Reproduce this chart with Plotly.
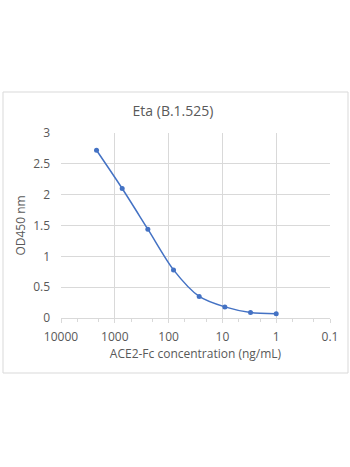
import plotly.graph_objects as go

conc = [2187, 729, 243, 81, 27, 9, 3, 1]
od450 = [2.72, 2.10, 1.44, 0.78, 0.35, 0.18, 0.09, 0.07]
x_ticks = [10000, 1000, 100, 10, 1, 0.1]
x_tick_labels = ["10000", "1000", "100", "10", "1", "0.1"]
y_ticks = [0, 0.5, 1, 1.5, 2, 2.5, 3]
y_tick_labels = ["0", "0.5", "1", "1.5", "2", "2.5", "3"]

W, H = 350, 467
L, R, T, B = 61, 20, 133, 149
pw, ph = W - L - R, H - T - B

color = "#4472C4"
gray = "#595959"
grid = "#d9d9d9"
font = "Open Sans"

fig = go.Figure()
fig.add_trace(go.Scatter(
    x=conc, y=od450, mode="lines+markers",
    line=dict(color=color, width=1.5, shape="spline", smoothing=0.8),
    marker=dict(color=color, size=5),
    showlegend=False,
))

def px_x(p):
    return (p - L) / pw

def px_y(p):
    return (H - B - p) / ph

fig.add_shape(type="rect", xref="paper", yref="paper",
              x0=px_x(3), x1=px_x(348), y0=px_y(373), y1=px_y(92),
              line=dict(color=grid, width=1), layer="below")

fig.update_layout(
    width=W, height=H,
    margin=dict(l=L, r=R, t=T, b=B),
    paper_bgcolor="white", plot_bgcolor="white",
    font=dict(family=font, color=gray),
    title=dict(text="Eta (B.1.525)", x=(173) / W, xanchor="center",
               y=1 - 111 / H, yanchor="middle",
               font=dict(size=14, color=gray, family=font)),
    xaxis=dict(
        type="log", range=[4, -1],
        tickvals=x_ticks, ticktext=x_tick_labels,
        tickfont=dict(size=12, color=gray),
        showgrid=True, gridcolor=grid, gridwidth=1,
        showline=True, linecolor=grid, linewidth=1,
        ticks="outside", ticklen=4, tickcolor=grid,
        ticklabelstandoff=4,
        minor=dict(ticks="outside", ticklen=3, tickcolor=grid, showgrid=False),
        zeroline=False,
        title=dict(text="ACE2-Fc concentration (ng/mL)",
                   font=dict(size=12, color=gray), standoff=4),
    ),
    yaxis=dict(
        range=[0, 3], tickvals=y_ticks, ticktext=y_tick_labels,
        tickfont=dict(size=12, color=gray),
        showgrid=True, gridcolor=grid, gridwidth=1,
        showline=False, zeroline=False, ticks="",
        ticklabelstandoff=10,
        title=dict(text="OD450 nm", font=dict(size=12, color=gray), standoff=4),
    ),
)

fig.write_html("out.html")
